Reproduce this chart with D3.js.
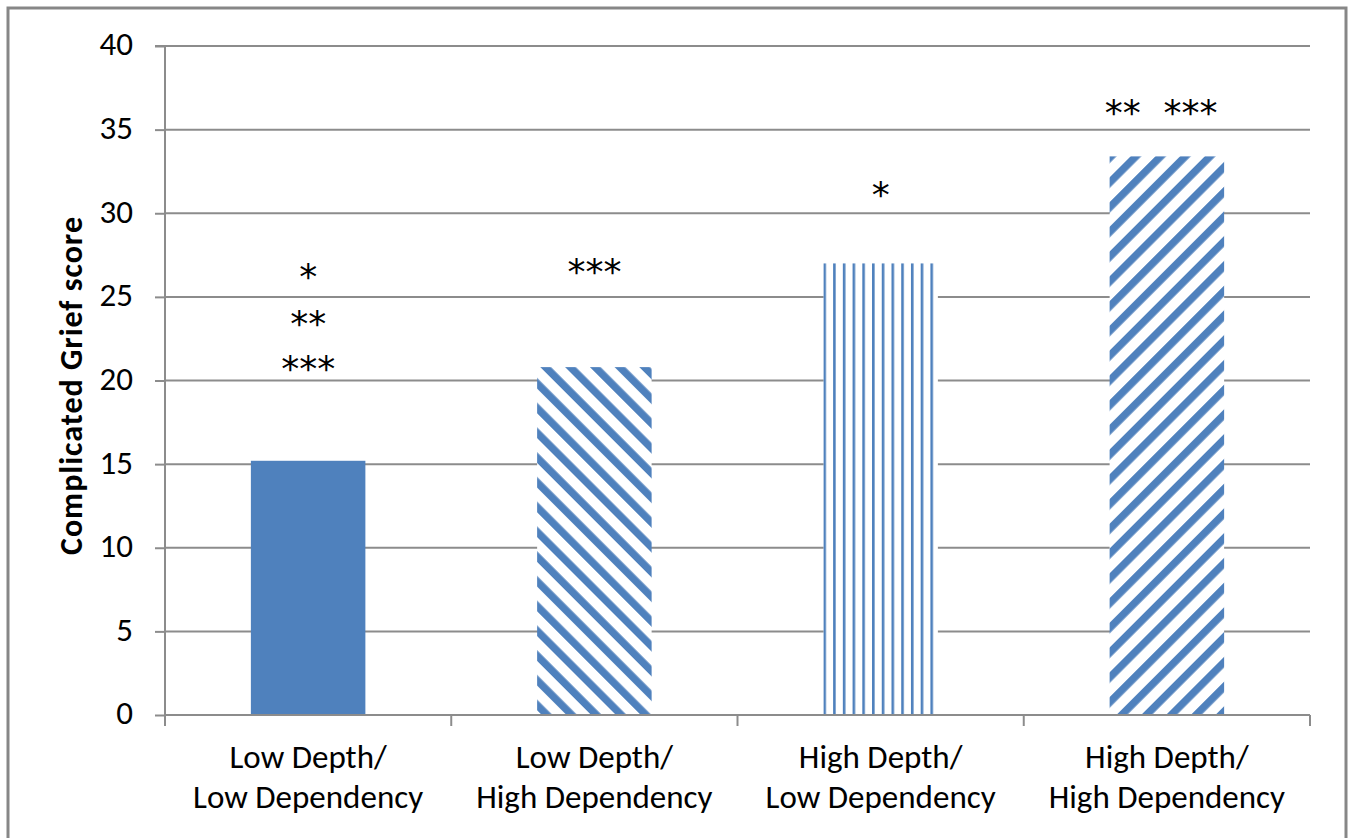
<!DOCTYPE html>
<html><head><meta charset="utf-8">
<script src="https://cdn.jsdelivr.net/npm/d3@7"></script>
<style>
html,body{margin:0;padding:0;background:#fff;}
svg{display:block;}
text{font-family:Carlito,Lato,"Open Sans",sans-serif;fill:#000;}
</style></head>
<body>
<svg id="chart" width="1355" height="838"></svg>
<script>
const categories = [["Low Depth/","Low Dependency"],["Low Depth/","High Dependency"],["High Depth/","Low Dependency"],["High Depth/","High Dependency"]];
const values = [15.2, 20.8, 27.0, 33.4];
const patterns = ["solid","diagBack","vertical","diagFwd"];
const significance = [["*","**","***"],["***"],["*"],["**  *** "]];
const sigValues = [[26.5,23.7,21.0],[26.8],[31.4],[36.3]];
const yTicks = [0,5,10,15,20,25,30,35,40];

const color = "#4F81BD";
const svg = d3.select("#chart");
const W = 1355, H = 838;

svg.append("rect").attr("x",8).attr("y",8).attr("width",1338).attr("height",H).attr("fill","#fff").attr("stroke","#878787").attr("stroke-width",3);

const m = {left:165, right:1310, top:46, bottom:715};
const x = d3.scaleBand().domain(d3.range(categories.length)).range([m.left,m.right]).paddingInner(0.6).paddingOuter(0.3);
const y = d3.scaleLinear().domain([0,40]).range([m.bottom,m.top]);

const defs = svg.append("defs");
function stripe(id, angle, period, sw, ox){
  const p = defs.append("pattern").attr("id",id).attr("patternUnits","userSpaceOnUse")
    .attr("x",ox||0).attr("width",period).attr("height",period).attr("patternTransform",`rotate(${angle})`);
  p.append("rect").attr("width",period).attr("height",period).attr("fill","#fff");
  p.append("rect").attr("x",0).attr("y",0).attr("width",sw).attr("height",period).attr("fill",color);
}
stripe("diagBack", -45, 17.5, 7.5);
stripe("diagFwd", 45, 17.5, 7.5);
stripe("vertical", 0, 9.73, 2.6, x(2));

// gridlines
svg.append("g").selectAll("line").data(yTicks.filter(d=>d>0)).join("line")
  .attr("x1",m.left).attr("x2",m.right).attr("y1",d=>y(d)).attr("y2",d=>y(d))
  .attr("stroke","#8c8c8c").attr("stroke-width",2);

// y axis
const yAxis = svg.append("g").attr("transform",`translate(${m.left},0)`)
  .call(d3.axisLeft(y).tickValues(yTicks).tickSize(10).tickPadding(22));
yAxis.select(".domain").attr("stroke","#8c8c8c").attr("stroke-width",2).attr("d",`M-10,${m.top}H0V${m.bottom}`);
yAxis.selectAll(".tick line").attr("stroke","#8c8c8c").attr("stroke-width",2);
yAxis.selectAll(".tick text").attr("font-size",33).attr("dy","0.27em").style("font-family","Carlito,Lato,'Open Sans',sans-serif").attr("fill","#000");

// bars
svg.append("g").selectAll("rect").data(values).join("rect")
  .attr("x",(d,i)=>x(i)).attr("width",x.bandwidth())
  .attr("y",d=>y(d)).attr("height",d=>y(0)-y(d))
  .attr("fill",(d,i)=>patterns[i]==="solid"?color:`url(#${patterns[i]})`);

// x axis
const step = x.step();
const bounds = d3.range(categories.length+1).map(i=>m.left+i*step);
svg.append("line").attr("x1",m.left).attr("x2",m.right).attr("y1",m.bottom).attr("y2",m.bottom)
  .attr("stroke","#8c8c8c").attr("stroke-width",2);
svg.append("g").selectAll("line").data(bounds).join("line")
  .attr("x1",d=>d).attr("x2",d=>d).attr("y1",m.bottom).attr("y2",m.bottom+11)
  .attr("stroke","#8c8c8c").attr("stroke-width",2);

// category labels
const lab = svg.append("g").selectAll("text").data(categories).join("text")
  .attr("text-anchor","middle").attr("font-size",33);
lab.each(function(d,i){
  const t = d3.select(this);
  d.forEach((line,j)=>{
    t.append("tspan").attr("x",x(i)+x.bandwidth()/2).attr("y",768+j*40).text(line);
  });
});

// significance
significance.forEach((arr,i)=>{
  arr.forEach((s,j)=>{
    svg.append("text").attr("x",x(i)+x.bandwidth()/2).attr("y",y(sigValues[i][j])+17)
      .attr("text-anchor","middle").attr("font-size",36)
      .style("font-family","'DejaVu Sans',sans-serif").style("white-space","pre")
      .attr("xml:space","preserve").text(s);
  });
});

// y title
svg.append("text").attr("transform",`translate(82,386) rotate(-90)`)
  .attr("text-anchor","middle").attr("font-size",32).attr("font-weight","bold")
  .attr("textLength",338).attr("lengthAdjust","spacing")
  .text("Complicated Grief score");
</script>
</body></html>
